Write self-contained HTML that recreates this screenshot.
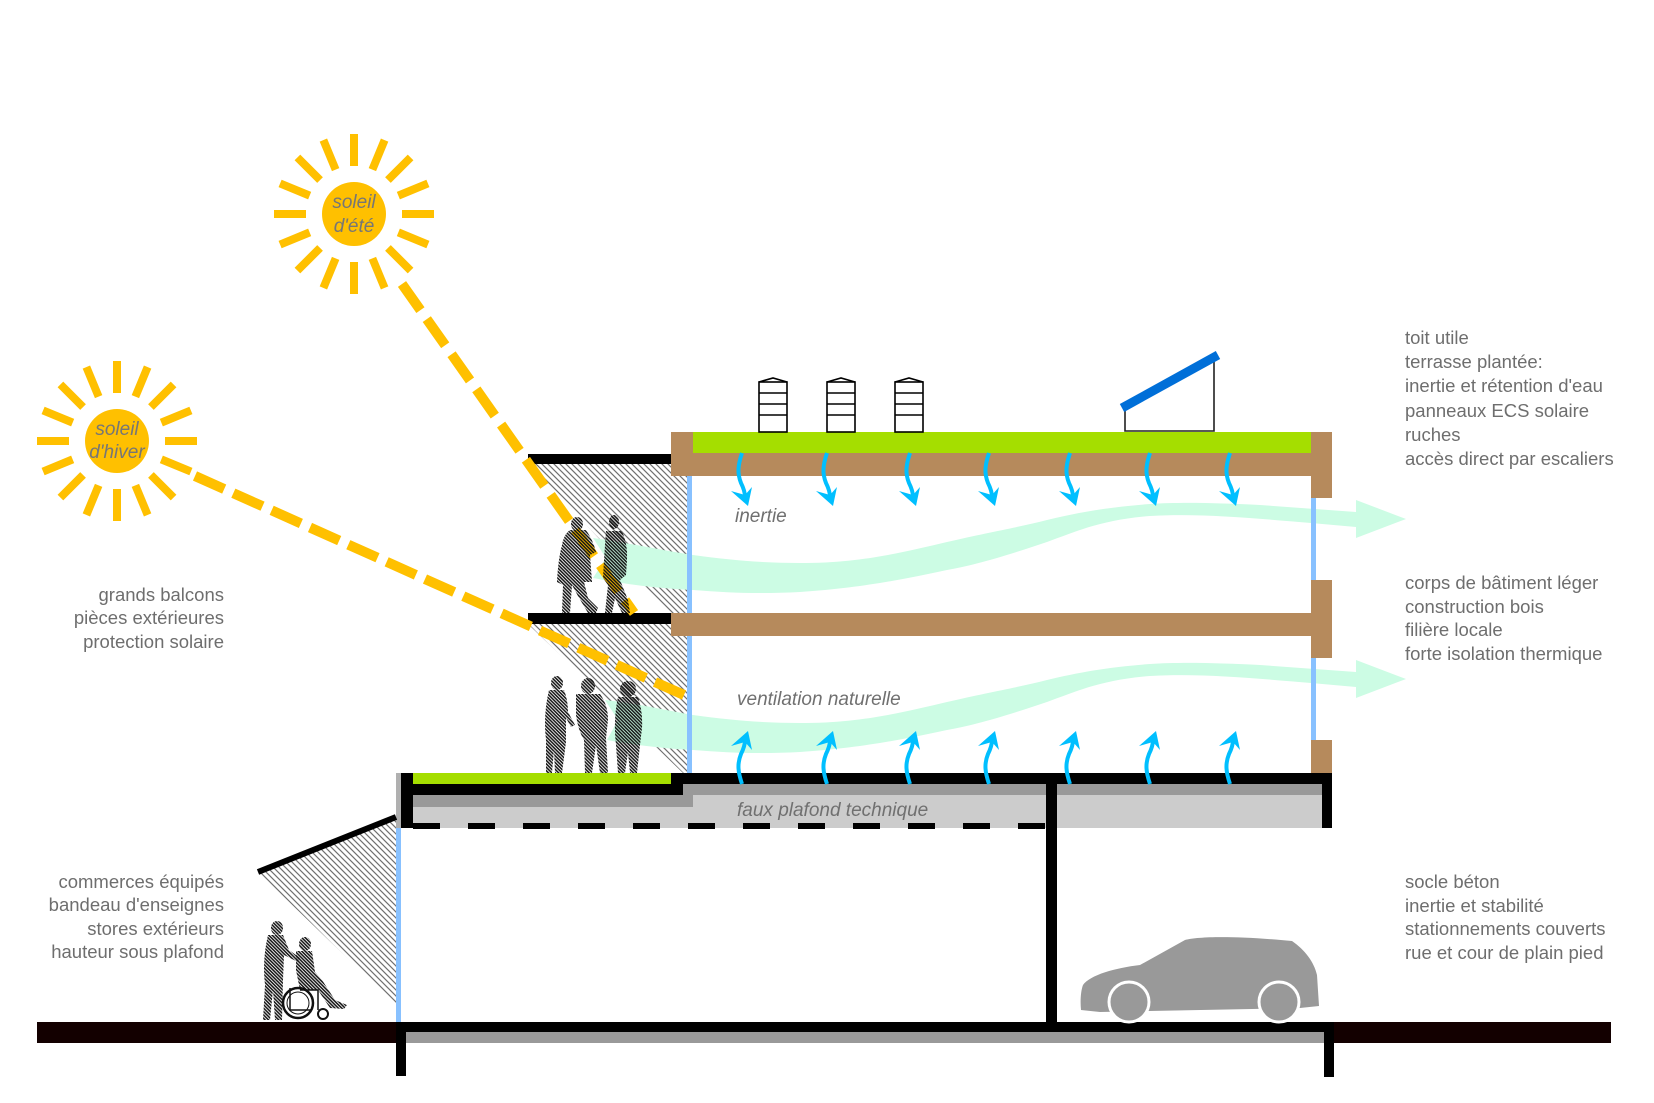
<!DOCTYPE html>
<html>
<head>
<meta charset="utf-8">
<style>
html,body{margin:0;padding:0;background:#fff;}
svg{display:block;}
text{font-family:"Liberation Sans","DejaVu Sans",sans-serif;}
</style>
</head>
<body>
<svg width="1654" height="1103" viewBox="0 0 1654 1103" xmlns="http://www.w3.org/2000/svg">
<defs>
  <pattern id="hatch" patternUnits="userSpaceOnUse" width="6" height="6">
    <path d="M-1,-1 L7,7 M-1,5 L1,7 M5,-1 L7,1" stroke="#707070" stroke-width="1.2"/>
  </pattern>
  <pattern id="ppl" patternUnits="userSpaceOnUse" width="3.4" height="3.4">
    <path d="M-1,-1 L4.4,4.4 M-1,2.4 L1,4.4 M2.4,-1 L4.4,1" stroke="#111" stroke-width="1.5"/>
  </pattern>
  <g id="rays" stroke="#FFC000" stroke-width="8">
    <line x1="0" y1="-48" x2="0" y2="-80"/>
    <line x1="0" y1="-48" x2="0" y2="-80" transform="rotate(22.5)"/>
    <line x1="0" y1="-48" x2="0" y2="-80" transform="rotate(45)"/>
    <line x1="0" y1="-48" x2="0" y2="-80" transform="rotate(67.5)"/>
    <line x1="0" y1="-48" x2="0" y2="-80" transform="rotate(90)"/>
    <line x1="0" y1="-48" x2="0" y2="-80" transform="rotate(112.5)"/>
    <line x1="0" y1="-48" x2="0" y2="-80" transform="rotate(135)"/>
    <line x1="0" y1="-48" x2="0" y2="-80" transform="rotate(157.5)"/>
    <line x1="0" y1="-48" x2="0" y2="-80" transform="rotate(180)"/>
    <line x1="0" y1="-48" x2="0" y2="-80" transform="rotate(202.5)"/>
    <line x1="0" y1="-48" x2="0" y2="-80" transform="rotate(225)"/>
    <line x1="0" y1="-48" x2="0" y2="-80" transform="rotate(247.5)"/>
    <line x1="0" y1="-48" x2="0" y2="-80" transform="rotate(270)"/>
    <line x1="0" y1="-48" x2="0" y2="-80" transform="rotate(292.5)"/>
    <line x1="0" y1="-48" x2="0" y2="-80" transform="rotate(315)"/>
    <line x1="0" y1="-48" x2="0" y2="-80" transform="rotate(337.5)"/>
  </g>
  <g id="darr">
    <path d="M0,0 C-4,12 -5,20 -1,30 C2,36 3,40 3,44" stroke="#00BFFF" stroke-width="4" fill="none"/>
    <path d="M-11,38 L3,42 L10,34 L6,53 Z" fill="#00BFFF"/>
  </g>
  <g id="hive">
    <rect x="0" y="4" width="28" height="50" fill="#fff" stroke="#000" stroke-width="1.6"/>
    <path d="M0,15 H28 M0,26 H28 M0,37 H28" stroke="#000" stroke-width="1.6"/>
    <path d="M0,4 L14,0 L28,4" fill="none" stroke="#000" stroke-width="1.6"/>
  </g>
</defs>

<rect x="0" y="0" width="1654" height="1103" fill="#fff"/>

<!-- shade hatching -->
<polygon points="528,464 687,464 687,613 670,613" fill="url(#hatch)"/>
<polygon points="528,624 687,624 687,773 683,773" fill="url(#hatch)"/>
<polygon points="258,872 396,817 396,1005" fill="url(#hatch)"/>

<!-- ventilation bands -->
<path d="M593,538 C630,543 660,550 693,555 C730,560 760,563 800,563 C860,563 900,553 947,542 C990,532 1020,527 1047,520 C1080,512 1110,507 1150,504 C1180,502 1220,503 1260,505 L1356,512 L1356,500 L1406,519 L1356,538 L1356,527 L1311,523 C1250,518 1200,513 1150,516 C1100,520 1075,532 1047,542 C1000,558 970,566 947,570 C900,580 860,588 800,592 C760,594 730,593 693,590 C650,588 620,583 593,578 L606,558 Z" fill="#CCFCE4"/>
<path d="M605,700 C640,704 665,710 693,715 C730,720 760,723 800,723 C860,723 900,713 947,702 C990,692 1020,687 1047,680 C1080,672 1110,667 1150,664 C1180,662 1220,663 1260,665 L1356,672 L1356,660 L1406,679 L1356,698 L1356,687 L1311,683 C1250,678 1200,673 1150,676 C1100,680 1075,692 1047,702 C1000,718 970,726 947,730 C900,740 860,748 800,752 C760,754 730,753 693,750 C655,748 630,744 607,740 L618,720 Z" fill="#CCFCE4"/>

<!-- roof -->
<rect x="671" y="432" width="22" height="44" fill="#B68A5C"/>
<rect x="693" y="432" width="618" height="21" fill="#A5DE00"/>
<rect x="671" y="453" width="640" height="23" fill="#B68A5C"/>
<rect x="1311" y="432" width="21" height="66" fill="#B68A5C"/>

<!-- middle floor -->
<rect x="671" y="613" width="640" height="23" fill="#B68A5C"/>
<rect x="1311" y="580" width="21" height="78" fill="#B68A5C"/>
<rect x="1311" y="740" width="21" height="33" fill="#B68A5C"/>

<!-- glass -->
<rect x="687" y="476" width="5" height="137" fill="#88C1FF"/>
<rect x="687" y="636" width="5" height="137" fill="#88C1FF"/>
<rect x="1311" y="498" width="5" height="82" fill="#88C1FF"/>
<rect x="1311" y="658" width="5" height="82" fill="#88C1FF"/>
<rect x="396" y="828" width="5" height="194" fill="#88C1FF"/>

<!-- balconies -->
<rect x="528" y="454" width="143" height="10" fill="#000"/>
<rect x="528" y="613" width="143" height="11" fill="#000"/>

<!-- podium slab -->
<rect x="413" y="795" width="280" height="12" fill="#999"/>
<rect x="683" y="784" width="363" height="11" fill="#999"/>
<rect x="413" y="807" width="633" height="21" fill="#CCC"/>
<rect x="693" y="795" width="353" height="33" fill="#CCC"/>
<rect x="1057" y="784" width="265" height="11" fill="#999"/>
<rect x="1057" y="795" width="265" height="33" fill="#CCC"/>
<rect x="413" y="773" width="258" height="11" fill="#A5DE00"/>
<rect x="401" y="784" width="282" height="11" fill="#000"/>
<rect x="671" y="773" width="661" height="11" fill="#000"/>
<rect x="671" y="773" width="12" height="22" fill="#000"/>
<rect x="401" y="773" width="12" height="55" fill="#000"/>
<rect x="396" y="773" width="5" height="55" fill="#B0B0B0"/>
<rect x="1322" y="773" width="10" height="55" fill="#000"/>
<rect x="1046" y="784" width="11" height="238" fill="#000"/>
<line x1="413" y1="826" x2="1046" y2="826" stroke="#000" stroke-width="6" stroke-dasharray="27 28"/>

<!-- ground floor slab and ground -->
<rect x="37" y="1022" width="359" height="21" fill="#130000"/>
<rect x="1334" y="1022" width="277" height="21" fill="#130000"/>
<rect x="406" y="1032" width="918" height="11" fill="#999"/>
<rect x="396" y="1022" width="938" height="10" fill="#000"/>
<rect x="396" y="1022" width="10" height="54" fill="#000"/>
<rect x="1324" y="1022" width="10" height="55" fill="#000"/>

<!-- awning -->
<line x1="258" y1="872" x2="396" y2="817" stroke="#000" stroke-width="6"/>

<!-- rooftop items -->
<use href="#hive" x="759" y="378"/>
<use href="#hive" x="827" y="378"/>
<use href="#hive" x="895" y="378"/>
<path d="M1125,408 V431 H1214 V358" fill="none" stroke="#222" stroke-width="1.6"/>
<line x1="1122" y1="408" x2="1218" y2="355" stroke="#006FD8" stroke-width="9"/>

<!-- blue arrows down -->
<use href="#darr" x="742" y="453"/>
<use href="#darr" x="827" y="453"/>
<use href="#darr" x="910" y="453"/>
<use href="#darr" x="989" y="453"/>
<use href="#darr" x="1070" y="453"/>
<use href="#darr" x="1150" y="453"/>
<use href="#darr" x="1230" y="453"/>
<!-- blue arrows up -->
<use href="#darr" transform="translate(742,784) scale(1,-1)"/>
<use href="#darr" transform="translate(827,784) scale(1,-1)"/>
<use href="#darr" transform="translate(910,784) scale(1,-1)"/>
<use href="#darr" transform="translate(989,784) scale(1,-1)"/>
<use href="#darr" transform="translate(1070,784) scale(1,-1)"/>
<use href="#darr" transform="translate(1150,784) scale(1,-1)"/>
<use href="#darr" transform="translate(1230,784) scale(1,-1)"/>

<!-- sun rays dashed -->
<line x1="402" y1="284" x2="634" y2="613" stroke="#FFC000" stroke-width="10" stroke-dasharray="32 11"/>
<line x1="195" y1="476" x2="684" y2="695" stroke="#FFC000" stroke-width="10" stroke-dasharray="32 10"/>

<!-- people -->
<g fill="url(#ppl)">
  <ellipse cx="577" cy="524" rx="6" ry="7"/>
  <path d="M570,530 L586,530 Q593,540 596,552 L590,555 L592,582 L584,582 L588,598 L598,608 L596,613 L588,613 L578,596 L572,585 L570,613 L562,613 L563,585 L557,582 Q558,560 562,545 Q564,534 570,530 Z"/>
  <ellipse cx="614" cy="522" rx="5" ry="7"/>
  <path d="M606,531 L622,531 Q628,545 627,560 L626,575 L620,580 L628,600 L630,613 L622,613 L615,598 L612,613 L605,613 L608,585 L603,578 Q604,558 606,531 Z"/>
  <ellipse cx="557" cy="683" rx="6" ry="7"/>
  <path d="M549,690 L564,690 Q568,700 568,712 L575,725 L571,727 L566,718 L566,742 L562,773 L555,773 L554,750 L552,773 L546,773 L546,740 Q543,715 549,690 Z"/>
  <ellipse cx="588" cy="686" rx="7" ry="8"/>
  <path d="M576,694 L600,694 Q608,705 608,720 L606,738 L608,773 L600,773 L596,745 L592,773 L585,773 L584,740 Q578,730 576,715 Z"/>
  <ellipse cx="628" cy="689" rx="8" ry="8"/>
  <path d="M618,697 L638,697 Q643,712 642,728 L640,745 L637,773 L630,773 L628,752 L625,773 L618,773 L616,745 Q613,720 618,697 Z"/>
  <ellipse cx="277" cy="928" rx="6" ry="7"/>
  <path d="M268,935 L283,935 L289,950 L300,958 L298,962 L284,955 L283,980 L282,1020 L275,1020 L273,990 L270,1020 L263,1020 L265,985 Q262,960 268,935 Z"/>
  <ellipse cx="305" cy="944" rx="6" ry="7"/>
  <path d="M296,951 L312,951 L315,972 L322,980 L335,1000 L347,1005 L344,1009 L330,1008 L318,990 L300,990 L296,970 Z"/>
</g>
<g fill="none" stroke="#111">
  <circle cx="298" cy="1003" r="15" stroke-width="2.5"/>
  <circle cx="298" cy="1003" r="11" stroke-width="1"/>
  <circle cx="323" cy="1014" r="5" stroke-width="2"/>
  <path d="M290,988 V1010 H312 M300,990 H318 V1010" stroke-width="1.5"/>
</g>

<!-- car -->
<path d="M1081,1010 C1080,1000 1081,990 1083,985 C1090,975 1115,968 1140,965 L1185,940 C1200,936 1240,936 1292,941 C1305,950 1314,962 1317,975 L1319,1006 L1300,1008 L1100,1012 Z" fill="#999"/>
<circle cx="1129" cy="1002" r="20" fill="#999" stroke="#fff" stroke-width="3"/>
<circle cx="1279" cy="1002" r="20" fill="#999" stroke="#fff" stroke-width="3"/>

<!-- suns -->
<use href="#rays" transform="translate(354,214)"/>
<circle cx="354" cy="214" r="32" fill="#FFC000"/>
<use href="#rays" transform="translate(117,441)"/>
<circle cx="117" cy="441" r="32" fill="#FFC000"/>

<g font-style="italic" font-size="19" fill="#767676" text-anchor="middle">
  <text x="354" y="208">soleil</text>
  <text x="354" y="232">d'été</text>
  <text x="117" y="435">soleil</text>
  <text x="117" y="458">d'hiver</text>
</g>

<g font-style="italic" font-size="19" fill="#707070">
  <text x="735" y="522">inertie</text>
  <text x="737" y="705">ventilation naturelle</text>
  <text x="737" y="816">faux plafond technique</text>
</g>

<g font-size="18.5" fill="#6E6E6E">
  <text x="1405" y="344">toit utile</text>
  <text x="1405" y="368">terrasse plantée:</text>
  <text x="1405" y="392">inertie et rétention d'eau</text>
  <text x="1405" y="417">panneaux ECS solaire</text>
  <text x="1405" y="441">ruches</text>
  <text x="1405" y="465">accès direct par escaliers</text>

  <text x="1405" y="589">corps de bâtiment léger</text>
  <text x="1405" y="613">construction bois</text>
  <text x="1405" y="636">filière locale</text>
  <text x="1405" y="660">forte isolation thermique</text>

  <text x="1405" y="888">socle béton</text>
  <text x="1405" y="912">inertie et stabilité</text>
  <text x="1405" y="935">stationnements couverts</text>
  <text x="1405" y="959">rue et cour de plain pied</text>
</g>
<g font-size="18.5" fill="#6E6E6E" text-anchor="end">
  <text x="224" y="601">grands balcons</text>
  <text x="224" y="624">pièces extérieures</text>
  <text x="224" y="648">protection solaire</text>

  <text x="224" y="888">commerces équipés</text>
  <text x="224" y="911">bandeau d'enseignes</text>
  <text x="224" y="935">stores extérieurs</text>
  <text x="224" y="958">hauteur sous plafond</text>
</g>
</svg>
</body>
</html>
